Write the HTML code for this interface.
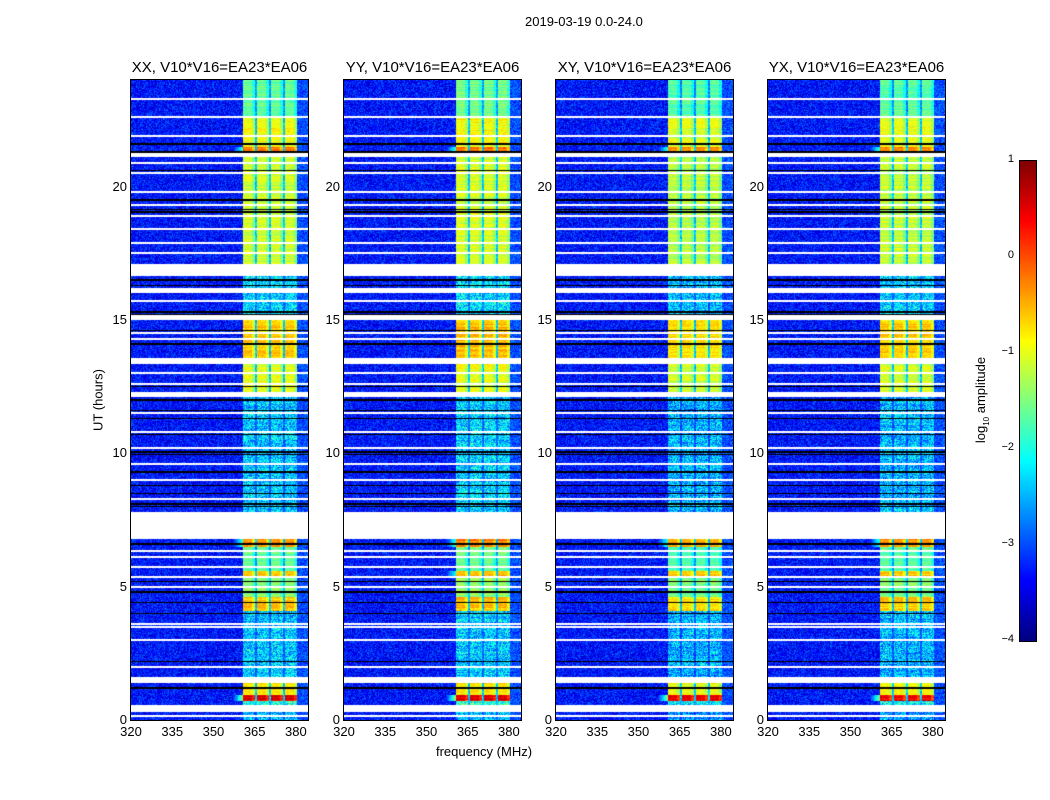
<!DOCTYPE html>
<html><head><meta charset="utf-8">
<style>
html,body{margin:0;padding:0;background:#fff;}
body{width:1050px;height:800px;position:relative;overflow:hidden;font-family:"Liberation Sans",sans-serif;}
.t{position:absolute;white-space:nowrap;color:#000;}
canvas{position:absolute;}
</style></head>
<body>
<div class="t" style="left:525px;top:14px;font-size:13px;">2019-03-19 0.0-24.0</div>
<div id="root"></div>
<canvas id="cb" width="16" height="480" style="left:1019px;top:160px;border:1px solid #000;"></canvas>
<div class="t" style="left:982px;top:400px;font-size:13px;transform:translate(-50%,-50%) rotate(-90deg);transform-origin:center;">log<sub style="font-size:8px">10</sub> amplitude</div>
<script>
// ---- data ----
const titles = ["XX, V10*V16=EA23*EA06","YY, V10*V16=EA23*EA06","XY, V10*V16=EA23*EA06","YX, V10*V16=EA23*EA06"];
const xTicks = [320,335,350,365,380];
const yTicks = [0,5,10,15,20];
const cbTicks = [1,0,-1,-2,-3,-4];
const bandSegStart = [0,0.55,0.7,0.95,1.6,4.1,4.6,5.4,5.6,6.5,7.8,12.3,13.57,15.2,17.1,21.25,21.5,22.6];
const bandSegEnd   = [0.3,0.7,0.95,1.4,4.1,4.6,5.4,5.6,6.5,6.8,12.1,13.35,15.0,16.65,21.1,21.5,22.6,24];
const bandSegLevel = [-2.5,-2,0.5,-0.8,-2.4,-0.6,-1.4,-0.5,-1.6,-0.3,-2.4,-1.0,-0.6,-2.3,-1.1,-0.2,-0.9,-1.6];
const panelOffset = [0,0.05,-0.1,-0.05];
const flagStart = [0.3,1.4,6.8,12.1,13.35,16.0,16.65,15.0,21.1];
const flagEnd   = [0.55,1.6,7.8,12.3,13.57,16.2,17.1,15.2,21.25];
const flagLines = [0.15,2.0,3.0,3.5,3.6,5.0,5.35,5.75,6.1,6.35,8.3,9.0,9.6,10.2,10.8,11.5,12.6,13.0,14.3,14.5,15.7,17.5,17.9,18.4,18.9,19.3,19.8,20.5,20.9,21.9,22.6,23.3];
const blackLines = [1.2,2.2,4.0,4.4,4.8,5.2,6.6,8.0,8.1,8.5,8.8,9.3,9.95,10.05,10.7,11.3,11.6,12.0,12.5,13.5,14.1,14.6,15.2,15.3,16.3,16.5,19.05,19.15,19.5,20.6,21.3,21.6];
const bandCols = [[360.8,365.1],[365.8,370.2],[370.9,375.3],[376.0,380.4]];
const bgLevel = -3.3;
const fMin = 320, fMax = 384.4, tMin = 0, tMax = 24;
// ---- layout ----
const panelX = [131,344,556,768], panelW = 177, panelY = 80, panelH = 640;
function xScale(f,p){return panelX[p] + (f-fMin)/(fMax-fMin)*panelW;}
function yScale(t){return panelY + panelH - (t-tMin)/(tMax-tMin)*panelH;}
function jet(v){v=Math.max(0,Math.min(1,v));const c=x=>Math.max(0,Math.min(1,1.5-Math.abs(x)));return [c(4*v-3)*255,c(4*v-2)*255,c(4*v-1)*255];}
function norm(l){return (l+4)/5;}
function hash(a,b){let h=(a*374761393+b*668265263)|0;h=(h^(h>>>13))*1274126177|0;return ((h^(h>>>16))>>>0)/4294967296;}
const root=document.getElementById('root');
for(let p=0;p<4;p++){
  const cv=document.createElement('canvas');
  cv.width=panelW;cv.height=panelH;
  cv.style.left=panelX[p]+'px';cv.style.top=panelY+'px';cv.style.outline='1px solid #000';
  
  
  root.appendChild(cv);
  const ctx=cv.getContext('2d');const img=ctx.createImageData(panelW,panelH);
  for(let r=0;r<panelH;r++){
    const t=(panelH-r-0.5)/panelH*(tMax-tMin)+tMin;
    let white=false,black=false;
    for(let i=0;i<flagStart.length;i++) if(t>=flagStart[i]&&t<flagEnd[i]) white=true;
    for(const l of flagLines) if(Math.abs(t-l)<0.035) white=true;
    for(const l of blackLines) if(Math.abs(t-l)<0.03) black=true;
    let band=-2.4;
    for(let i=0;i<bandSegStart.length;i++) if(t>=bandSegStart[i]&&t<bandSegEnd[i]) band=bandSegLevel[i]+panelOffset[p];
    const rowVar=(hash(r,77+p)-0.5)*0.35;
    for(let c=0;c<panelW;c++){
      const f=fMin+(c+0.5)/panelW*(fMax-fMin);
      let rgb;
      if(white) rgb=[255,255,255];
      else if(black) rgb=[0,0,0];
      else{
        const n=hash(c+p*1000,r)-0.5;
        let v=bgLevel+n*0.9;
        let ci=-1;
        for(let k=0;k<bandCols.length;k++) if(f>=bandCols[k][0]&&f<bandCols[k][1]) ci=k;
        const low=band<-1.8;
        if(ci>=0){
          v=band+rowVar+n*(low?1.2:0.35);
          if(!low && f>bandCols[ci][1]-1.2) v-=0.35;
        }
        else if(f>=360.8&&f<380.4) v=(low?band-0.5:Math.min(band-1.0,-2.4))+n*0.6;
        else if(f>=357&&f<360.8&&band>-0.5) v=bgLevel+(f-357)/3.8*(band-0.6-bgLevel)*0.6+n*0.4;
        else if(f>=380.4) v=-3.0+n*0.7;
        rgb=jet(norm(v));
      }
      const k=(r*panelW+c)*4;img.data[k]=rgb[0];img.data[k+1]=rgb[1];img.data[k+2]=rgb[2];img.data[k+3]=255;
    }
  }
  ctx.putImageData(img,0,0);
  const tt=document.createElement('div');tt.className='t';
  
  
  tt.style.cssText='left:'+(panelX[p]+panelW/2)+'px;top:59px;font-size:15px;transform:translateX(-50%);';
  tt.textContent=titles[p];root.appendChild(tt);
  for(const f of xTicks){
    const d=document.createElement('div');d.className='t';
    
    
    d.style.cssText='left:'+xScale(f,p)+'px;top:724px;font-size:13px;transform:translateX(-50%);';
    d.textContent=f;root.appendChild(d);
  }
  for(const t of yTicks){
    const d=document.createElement('div');d.className='t';
    
    
    d.style.cssText='left:'+(panelX[p]-4)+'px;top:'+(yScale(t)-8)+'px;font-size:13px;transform:translateX(-100%);';
    d.textContent=t;root.appendChild(d);
  }
}
const yl=document.createElement('div');yl.className='t';


yl.style.cssText='left:98px;top:400px;font-size:13px;transform:translate(-50%,-50%) rotate(-90deg);';
yl.textContent='UT (hours)';root.appendChild(yl);
const xl=document.createElement('div');xl.className='t';


xl.style.cssText='left:484px;top:744px;font-size:13px;transform:translateX(-50%);';
xl.textContent='frequency (MHz)';root.appendChild(xl);
// colorbar
const cb=document.getElementById('cb').getContext('2d');
for(let r=0;r<480;r++){const rgb=jet(1-r/479);cb.fillStyle='rgb('+rgb.map(Math.round).join(',')+')';cb.fillRect(0,r,16,1);}
for(const v of cbTicks){
  const d=document.createElement('div');d.className='t';
  
  
  const y=160+(1-v)/5*480;
  d.style.cssText='left:1014px;top:'+(y-7)+'px;font-size:11px;transform:translateX(-100%);';
  d.textContent=v<0?'\u2212'+(-v):v;root.appendChild(d);
}
</script>
</body></html>
